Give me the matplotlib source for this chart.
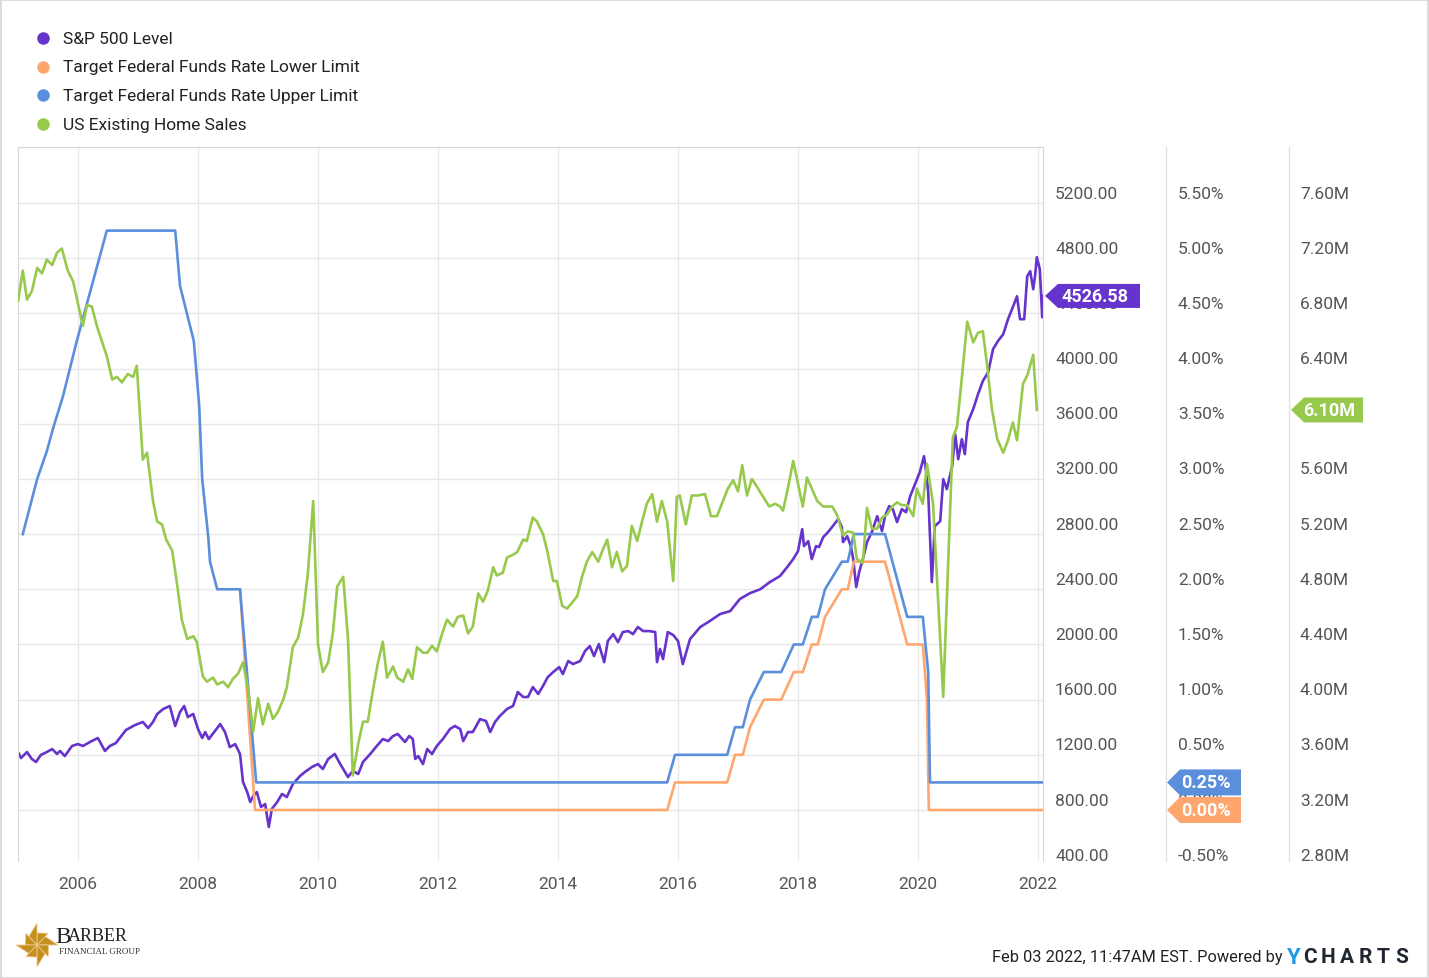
import numpy as np
import matplotlib
matplotlib.use("Agg")
import matplotlib.pyplot as plt
from matplotlib import transforms
from matplotlib.patches import Polygon, Rectangle
from matplotlib.lines import Line2D

plt.rcParams['font.family'] = ['Roboto', 'DejaVu Sans']

# ---- data, dates as decimal years ----
spx_dates = [2005.00, 2005.05, 2005.15, 2005.23, 2005.30, 2005.38, 2005.48, 2005.57, 2005.65, 2005.70, 2005.78, 2005.90,
             2006.00, 2006.08, 2006.20, 2006.33, 2006.45, 2006.53, 2006.63, 2006.80, 2006.95,
             2007.08, 2007.17, 2007.25, 2007.32, 2007.42, 2007.53, 2007.62, 2007.70, 2007.77, 2007.83, 2007.92,
             2008.00, 2008.07, 2008.12, 2008.18, 2008.28, 2008.37, 2008.45, 2008.53, 2008.62, 2008.70, 2008.75, 2008.82, 2008.87, 2008.92, 2008.98,
             2009.05, 2009.12, 2009.15, 2009.18, 2009.23, 2009.32, 2009.40, 2009.48, 2009.58, 2009.70, 2009.78, 2009.90,
             2010.00, 2010.08, 2010.17, 2010.28, 2010.37, 2010.45, 2010.50, 2010.58, 2010.67, 2010.75, 2010.87, 2010.98,
             2011.08, 2011.17, 2011.25, 2011.33, 2011.45, 2011.52, 2011.58, 2011.62, 2011.67, 2011.75, 2011.82, 2011.90, 2011.98,
             2012.08, 2012.20, 2012.28, 2012.37, 2012.42, 2012.50, 2012.58, 2012.70, 2012.80, 2012.87, 2012.95,
             2013.03, 2013.15, 2013.25, 2013.33, 2013.42, 2013.50, 2013.58, 2013.67, 2013.75, 2013.83, 2013.92,
             2014.02, 2014.08, 2014.17, 2014.25, 2014.37, 2014.45, 2014.53, 2014.60, 2014.68, 2014.77, 2014.83, 2014.92,
             2015.00, 2015.08, 2015.17, 2015.25, 2015.33, 2015.42, 2015.52, 2015.62, 2015.65, 2015.70, 2015.75, 2015.83, 2015.92,
             2016.00, 2016.08, 2016.20, 2016.37, 2016.53, 2016.70, 2016.87,
             2017.03, 2017.20, 2017.37, 2017.53, 2017.70, 2017.82, 2017.92,
             2018.00, 2018.07, 2018.10, 2018.17, 2018.23, 2018.30, 2018.35, 2018.42, 2018.50, 2018.58, 2018.67, 2018.73, 2018.75, 2018.82, 2018.88, 2018.92, 2018.97,
             2019.02, 2019.08, 2019.15, 2019.23, 2019.32, 2019.40, 2019.45, 2019.52, 2019.58, 2019.65, 2019.73, 2019.80, 2019.87, 2019.95,
             2020.03, 2020.10, 2020.13, 2020.17, 2020.20, 2020.23, 2020.28, 2020.37, 2020.42, 2020.48, 2020.57, 2020.62, 2020.67, 2020.73, 2020.78, 2020.83, 2020.92,
             2021.00, 2021.08, 2021.17, 2021.25, 2021.33, 2021.42, 2021.50, 2021.58, 2021.65, 2021.70, 2021.77, 2021.82, 2021.87, 2021.92, 2021.95, 2021.98,
             2022.03, 2022.07, 2022.08]
spx_level = [1220, 1177, 1220, 1170, 1148, 1199, 1220, 1242, 1206, 1228, 1191, 1264,
             1278, 1264, 1293, 1322, 1228, 1264, 1285, 1380, 1416,
             1438, 1394, 1438, 1496, 1532, 1554, 1409, 1510, 1554, 1474, 1496,
             1387, 1322, 1365, 1314, 1372, 1423, 1365, 1256, 1278, 1206, 1003, 930, 858, 901, 930,
             822, 843, 757, 677, 807, 858, 916, 894, 988, 1046, 1075, 1112,
             1133, 1097, 1170, 1206, 1133, 1075, 1039, 1083, 1061, 1148, 1206, 1264,
             1314, 1300, 1336, 1351, 1293, 1336, 1314, 1170, 1191, 1133, 1242, 1206, 1264,
             1314, 1387, 1409, 1387, 1300, 1365, 1365, 1459, 1445, 1365, 1438,
             1481, 1532, 1554, 1655, 1619, 1619, 1691, 1641, 1699, 1764, 1800,
             1836, 1785, 1880, 1858, 1880, 1952, 1988, 1916, 2003, 1872, 2025, 2075,
             2017, 2090, 2097, 2075, 2126, 2097, 2097, 2090, 1872, 1967, 1894, 2090, 2068,
             2025, 1858, 2039, 2126, 2170, 2220, 2242,
             2329, 2372, 2400, 2452, 2496, 2561, 2619,
             2677, 2836, 2713, 2749, 2619, 2713, 2706, 2778, 2814, 2858, 2909, 2851, 2742, 2785, 2713, 2619, 2416,
             2525, 2619, 2742, 2814, 2930, 2822, 2930, 3003, 2981, 2887, 2981, 2959, 3075, 3162,
             3249, 3365, 3271, 3104, 2785, 2452, 2858, 2894, 3198, 3126, 3293, 3524, 3343, 3488, 3380, 3611, 3706,
             3814, 3909, 3974, 4140, 4198, 4249, 4358, 4445, 4524, 4358, 4358, 4669, 4706, 4575, 4669, 4807,
             4720, 4372, 4526.58]

upper_dates = [2005.08, 2005.32, 2005.48, 2005.58, 2005.75, 2005.98, 2006.23, 2006.48, 2007.62, 2007.70,
               2007.93, 2008.02, 2008.07, 2008.17, 2008.20, 2008.32, 2008.70, 2008.97, 2015.82, 2015.95,
               2016.82, 2016.95, 2017.08, 2017.20, 2017.43, 2017.72, 2017.93, 2018.08, 2018.23, 2018.33,
               2018.45, 2018.73, 2018.83, 2018.93, 2019.45, 2019.82, 2020.08, 2020.17, 2020.20, 2022.08]
upper_rate = [2.50, 3.00, 3.25, 3.45, 3.75, 4.25, 4.75, 5.25, 5.25, 4.75,
              4.25, 3.66, 3.00, 2.48, 2.25, 2.00, 2.00, 0.25, 0.25, 0.50,
              0.50, 0.75, 0.75, 1.00, 1.25, 1.25, 1.50, 1.50, 1.75, 1.75,
              2.00, 2.25, 2.25, 2.50, 2.50, 1.75, 1.75, 1.25, 0.25, 0.25]

lower_dates = [2008.70, 2008.95, 2015.82, 2015.95, 2016.82, 2016.95, 2017.08, 2017.20, 2017.43, 2017.72,
               2017.93, 2018.08, 2018.23, 2018.33, 2018.45, 2018.73, 2018.83, 2018.93, 2019.45, 2019.82,
               2020.08, 2020.15, 2020.18, 2022.08]
lower_rate = [2.00, 0.00, 0.00, 0.25, 0.25, 0.50, 0.50, 0.75, 1.00, 1.00,
              1.25, 1.25, 1.50, 1.50, 1.75, 2.00, 2.00, 2.25, 2.25, 1.50,
              1.50, 1.00, 0.00, 0.00]

home_dates = [2005.00, 2005.08, 2005.15, 2005.23, 2005.32, 2005.40, 2005.48, 2005.57, 2005.65, 2005.73, 2005.83, 2005.92,
              2006.08, 2006.15, 2006.23, 2006.32, 2006.48, 2006.57, 2006.65, 2006.73, 2006.83, 2006.92, 2006.98,
              2007.08, 2007.15, 2007.25, 2007.32, 2007.40, 2007.47, 2007.57, 2007.65, 2007.73, 2007.82, 2007.92, 2007.98,
              2008.08, 2008.15, 2008.25, 2008.32, 2008.42, 2008.50, 2008.58, 2008.67, 2008.75, 2008.83, 2008.92,
              2009.00, 2009.08, 2009.17, 2009.25, 2009.33, 2009.42, 2009.48, 2009.58, 2009.67, 2009.75, 2009.83, 2009.92,
              2010.00, 2010.08, 2010.17, 2010.25, 2010.32, 2010.42, 2010.50, 2010.58, 2010.67, 2010.75, 2010.83, 2010.92,
              2011.00, 2011.08, 2011.15, 2011.25, 2011.32, 2011.42, 2011.50, 2011.57, 2011.65, 2011.75, 2011.82, 2011.90, 2011.98,
              2012.07, 2012.15, 2012.25, 2012.33, 2012.42, 2012.50, 2012.58, 2012.67, 2012.75, 2012.83, 2012.92, 2012.98,
              2013.08, 2013.15, 2013.25, 2013.32, 2013.42, 2013.48, 2013.58, 2013.65, 2013.75, 2013.82, 2013.92, 2013.98,
              2014.07, 2014.15, 2014.23, 2014.32, 2014.40, 2014.48, 2014.57, 2014.67, 2014.75, 2014.82, 2014.90, 2014.98,
              2015.07, 2015.15, 2015.23, 2015.32, 2015.40, 2015.48, 2015.57, 2015.65, 2015.73, 2015.82, 2015.92, 2015.98,
              2016.03, 2016.13, 2016.23, 2016.33, 2016.45, 2016.55, 2016.65, 2016.73, 2016.83, 2016.92,
              2017.00, 2017.07, 2017.15, 2017.23, 2017.32, 2017.42, 2017.52, 2017.62, 2017.70, 2017.75, 2017.83, 2017.92,
              2018.08, 2018.15, 2018.32, 2018.42, 2018.57, 2018.65, 2018.75, 2018.83, 2018.92, 2018.98,
              2019.08, 2019.15, 2019.23, 2019.32, 2019.40, 2019.48, 2019.57, 2019.65, 2019.73, 2019.82, 2019.92, 2019.98,
              2020.08, 2020.15, 2020.25, 2020.42, 2020.58, 2020.65, 2020.75, 2020.82, 2020.92,
              2021.00, 2021.08, 2021.15, 2021.23, 2021.32, 2021.42, 2021.50, 2021.58, 2021.65, 2021.75, 2021.82, 2021.92, 2021.98]
home_sales = [6.89, 7.11, 6.90, 6.96, 7.13, 7.09, 7.19, 7.15, 7.24, 7.27, 7.11, 7.03,
              6.71, 6.86, 6.85, 6.70, 6.49, 6.32, 6.34, 6.30, 6.36, 6.34, 6.42,
              5.74, 5.79, 5.44, 5.29, 5.27, 5.16, 5.08, 4.84, 4.58, 4.44, 4.46, 4.42,
              4.17, 4.13, 4.16, 4.11, 4.13, 4.09, 4.15, 4.19, 4.27, 4.09, 3.77,
              4.01, 3.82, 3.97, 3.86, 3.91, 4.00, 4.09, 4.38, 4.45, 4.62, 4.91, 5.44,
              4.40, 4.20, 4.27, 4.49, 4.82, 4.89, 4.44, 3.45, 3.68, 3.84, 3.84, 4.08,
              4.27, 4.42, 4.16, 4.24, 4.16, 4.13, 4.22, 4.15, 4.38, 4.34, 4.34, 4.39, 4.35,
              4.48, 4.58, 4.53, 4.60, 4.61, 4.48, 4.53, 4.77, 4.71, 4.79, 4.96, 4.90,
              4.92, 5.03, 5.05, 5.07, 5.16, 5.15, 5.32, 5.29, 5.20, 5.08, 4.86, 4.86,
              4.68, 4.66, 4.70, 4.75, 4.89, 5.00, 5.07, 5.00, 5.09, 5.16, 4.96, 5.07,
              4.93, 4.97, 5.26, 5.15, 5.29, 5.42, 5.49, 5.29, 5.44, 5.29, 4.86, 5.47,
              5.48, 5.27, 5.48, 5.48, 5.49, 5.33, 5.33, 5.42, 5.53, 5.59,
              5.51, 5.70, 5.48, 5.60, 5.54, 5.47, 5.40, 5.42, 5.40, 5.37, 5.53, 5.73,
              5.40, 5.61, 5.44, 5.40, 5.40, 5.34, 5.19, 5.22, 5.21, 5.02,
              4.99, 5.39, 5.24, 5.24, 5.32, 5.34, 5.40, 5.43, 5.41, 5.41, 5.33, 5.53,
              5.42, 5.71, 5.42, 4.02, 5.90, 5.98, 6.42, 6.74, 6.59,
              6.66, 6.67, 6.43, 6.11, 5.89, 5.79, 5.88, 6.01, 5.88, 6.29, 6.35, 6.50, 6.10]

spx_ticks = np.arange(400, 5201, 400)
rate_ticks = np.arange(-0.5, 5.51, 0.5)
home_ticks = np.arange(2.8, 7.61, 0.4)
year_ticks = list(range(2006, 2023, 2))

legend_labels = ["S&P 500 Level", "Target Federal Funds Rate Lower Limit",
                 "Target Federal Funds Rate Upper Limit", "US Existing Home Sales"]
PURPLE, ORANGE, BLUE, GREEN = "#6633cc", "#ffa66e", "#5b8fdb", "#97c94c"
colors = [PURPLE, ORANGE, BLUE, GREEN]

W, H = 1429, 979
fig = plt.figure(figsize=(W / 100, H / 100), dpi=100)
fig.patches.append(Rectangle((0.5 / W, 0.5 / H), 1 - 1.5 / W, 1 - 1.5 / H, transform=fig.transFigure,
                             fill=False, edgecolor="#d4d4d4", lw=1.2))

L, R, T, B = 18, 1043, 148, 862
ax = fig.add_axes([L / W, 1 - B / H, (R - L) / W, (B - T) / H])
ax_rate = ax.twinx()
ax_home = ax.twinx()

ax.set_xlim(2005.0, 2022.083)
ax.set_ylim(430.3, 5606.1)
ax_rate.set_ylim(-0.4621, 6.0076)
ax_home.set_ylim(2.8303, 8.0061)

ax.plot(spx_dates, spx_level, color=PURPLE, lw=1.9, solid_joinstyle="round")
ax_rate.plot(lower_dates, lower_rate, color=ORANGE, lw=1.9)
ax_rate.plot(upper_dates, upper_rate, color=BLUE, lw=1.9)
ax_home.plot(home_dates, home_sales, color=GREEN, lw=1.9, solid_joinstyle="round")

for a in (ax_rate, ax_home):
    a.axis("off")

ax.set_xticks(year_ticks)
ax.set_xticklabels([str(y) for y in year_ticks], fontsize=12.5, color="#555555")
ax.tick_params(axis="x", length=0, pad=11)
ax.set_yticks(spx_ticks[spx_ticks >= 800])
ax.tick_params(axis="y", length=0, labelleft=False, labelright=False)
ax.grid(True, color="#e8e8e8", lw=1)
ax.set_axisbelow(True)
for side in ("left", "right", "top"):
    ax.spines[side].set_color("#d8d8d8")
ax.spines["bottom"].set_visible(False)

# right-hand value scales, labels sit a little above their grid lines
up = transforms.ScaledTranslation(0, 10 / 100, fig.dpi_scale_trans)
def side_labels(axis, ticks, fmt, x_px):
    tr = transforms.blended_transform_factory(ax.transAxes, axis.transData) + up
    for t in ticks:
        axis.text((x_px - L) / (R - L), t, fmt(t), transform=tr, ha="left", va="center",
                  fontsize=12.5, color="#555555", clip_on=False)

side_labels(ax, spx_ticks, lambda v: f"{v:.2f}", 1055)
side_labels(ax_rate, rate_ticks, lambda v: f"{v:.2f}%", 1178)
side_labels(ax_home, home_ticks, lambda v: f"{v:.2f}M", 1300)

for x_px in (1166, 1289):
    ax.plot([(x_px - L) / (R - L)] * 2, [0, 1], transform=ax.transAxes, color="#e2e2e2",
            lw=1, clip_on=False)

# last-value tags
def tag(axis, yval, text, color, tip_px, right_px, h_px=25, tip_w=13):
    base = transforms.blended_transform_factory(ax.transAxes, axis.transData)
    anchor = transforms.ScaledTranslation((tip_px - L) / (R - L), yval, base)
    tr = transforms.Affine2D().scale(1 / 100) + fig.dpi_scale_trans + anchor
    w = right_px - tip_px
    poly = Polygon([(0, 0), (tip_w, h_px / 2), (w, h_px / 2), (w, -h_px / 2), (tip_w, -h_px / 2)],
                   closed=True, facecolor=color, edgecolor="none", transform=tr)
    fig.add_artist(poly)
    fig.text(w / 2 + 2, 0, text, transform=tr, ha="center", va="center",
             fontsize=13, fontweight="bold", color="white")

tag(ax, spx_level[-1], f"{spx_level[-1]:.2f}", PURPLE, 1045, 1140, 24)
tag(ax_rate, upper_rate[-1], f"{upper_rate[-1]:.2f}%", BLUE, 1167, 1241, 26)
tag(ax_rate, lower_rate[-1], f"{lower_rate[-1]:.2f}%", ORANGE, 1167, 1241, 26)
tag(ax_home, home_sales[-1], f"{home_sales[-1]:.2f}M", GREEN, 1291, 1363, 25)

# legend
for i, (lab, c) in enumerate(zip(legend_labels, colors)):
    yy = 1 - (39 + 28.7 * i) / H
    fig.add_artist(Line2D([43 / W], [yy], marker="o", ms=8, color=c, transform=fig.transFigure))
    fig.text(63 / W, yy, lab, va="center", ha="left", fontsize=12.5, color="#222222")

# footer
fig.text(1283 / W, 1 - 958 / H, "Feb 03 2022, 11:47AM EST. Powered by", ha="right", va="center",
         fontsize=11.8, color="#222222")
fig.text(1287 / W, 1 - 958 / H, "Y", ha="left", va="center", fontsize=16, fontweight="bold",
         color="#1a9be6")
for i, ch in enumerate("CHARTS"):
    fig.text((1310 + i * 18.3) / W, 1 - 958 / H, ch, ha="center", va="center", fontsize=15,
             fontweight="bold", color="#1f2630")

# logo
lax = fig.add_axes([16 / W, 1 - 968 / H, 42 / W, 44 / H])
lax.set_xlim(-1, 1)
lax.set_ylim(-1, 1)
lax.axis("off")
for k in range(8):
    a0 = np.pi / 4 * k
    a1 = a0 + np.pi / 4
    r = 1.0 if k % 2 == 0 else 0.75
    pts = [(0, 0), (r * np.cos(a0), r * np.sin(a0)), (0.55 * np.cos(a1), 0.55 * np.sin(a1))]
    lax.add_patch(Polygon(pts, closed=True, facecolor="#c4901c", edgecolor="#f0c890", lw=0.6))
fig.text(55 / W, 1 - 938 / H, "B", ha="left", va="center", fontsize=17, family="Liberation Serif",
         color="#222222")
fig.text(68 / W, 1 - 937 / H, "ARBER", ha="left", va="center", fontsize=13, family="Liberation Serif",
         color="#222222")
fig.text(59 / W, 1 - 952 / H, "FINANCIAL GROUP", ha="left", va="center", fontsize=6.5,
         family="Liberation Serif", color="#333333")

fig.savefig("out.png", dpi=100)
